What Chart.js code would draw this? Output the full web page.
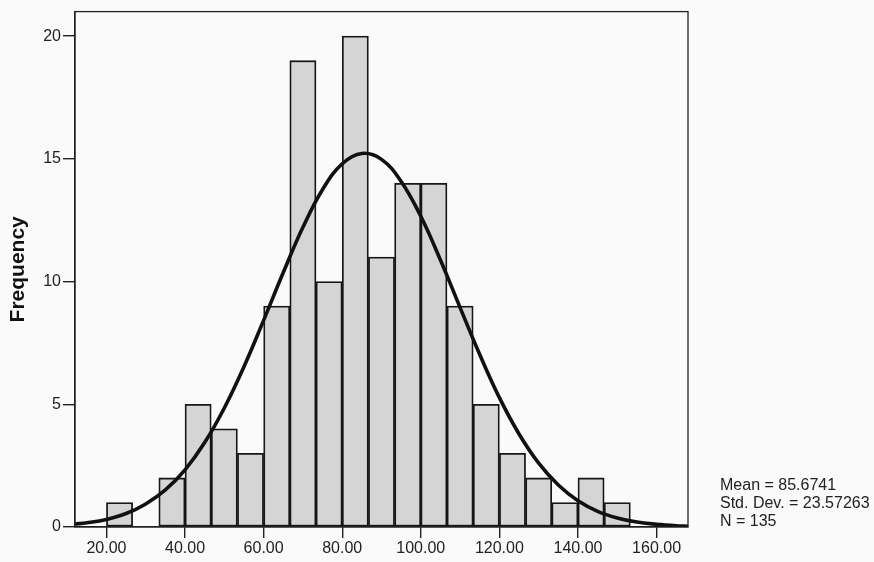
<!DOCTYPE html>
<html>
<head>
<meta charset="utf-8">
<script src="https://cdn.jsdelivr.net/npm/chart.js@4/dist/chart.umd.min.js"></script>
<style>
  html, body { margin: 0; padding: 0; background: #fafafa; }
  #wrap { position: relative; width: 874px; height: 562px; }
  #stats {
    position: absolute; left: 720px; top: 476px;
    font-family: "Liberation Sans", Arial, sans-serif; font-size: 16px;
    line-height: 18px; color: #222;
  }
</style>
</head>
<body>
<div id="wrap">
  <canvas id="hist" width="874" height="562"></canvas>
  <div id="stats">Mean = 85.6741<br>Std. Dev. = 23.57263<br>N = 135</div>
</div>
<script>
// histogram bins (lower edges, width 20/3) and counts
const binEdges = [20, 26.667, 33.333, 40, 46.667, 53.333, 60, 66.667, 73.333, 80,
                  86.667, 93.333, 100, 106.667, 113.333, 120, 126.667, 133.333, 140, 146.667, 153.333];
const counts = [1, 0, 2, 5, 4, 3, 9, 19, 10, 20, 11, 14, 14, 9, 5, 3, 2, 1, 2, 1];

// fitted normal curve
const curveX = [12, 15, 20, 25, 30, 35, 40, 45, 50, 55, 60, 65, 70, 75, 80, 85, 90,
                95, 100, 105, 110, 115, 120, 125, 130, 135, 140, 145, 150, 155, 160, 165, 168];
const curveY = [0.12, 0.17, 0.31, 0.55, 0.94, 1.51, 2.33, 3.44, 4.85, 6.53, 8.42, 10.37, 12.21, 13.75, 14.80, 15.22, 14.98,
                14.08, 12.66, 10.88, 8.94, 7.03, 5.27, 3.79, 2.60, 1.71, 1.07, 0.64, 0.37, 0.20, 0.11, 0.05, 0.03];

const xTicks = [20, 40, 60, 80, 100, 120, 140, 160];
const yTicks = [0, 5, 10, 15, 20];

const barData = counts.map((c, i) => ({ x: (binEdges[i] + binEdges[i + 1]) / 2, y: c }));
const lineData = curveX.map((x, i) => ({ x: x, y: curveY[i] }));

// box round the plot area
const frame = {
  id: 'frame',
  afterDraw(chart) {
    const a = chart.chartArea, ctx = chart.ctx;
    ctx.save();
    ctx.strokeStyle = '#222';
    ctx.lineWidth = 1.3;
    ctx.strokeRect(a.left, a.top, a.right - a.left, a.bottom - a.top);
    ctx.restore();
  }
};

const tickFont = { family: '"Liberation Sans", Arial, sans-serif', size: 16 };

new Chart(document.getElementById('hist'), {
  data: {
    datasets: [
      {
        type: 'line',
        data: lineData,
        borderColor: '#111',
        borderWidth: 3.6,
        pointRadius: 0,
        tension: 0.4,
        fill: false,
        order: 0
      },
      {
        type: 'bar',
        data: barData,
        backgroundColor: '#d5d5d5',
        borderColor: '#161616',
        borderWidth: 1.8,
        borderSkipped: false,
        barPercentage: 1,
        categoryPercentage: 1,
        order: 1
      }
    ]
  },
  options: {
    responsive: false,
    animation: false,
    layout: { padding: { top: 11, right: 186, left: 0, bottom: 0 } },
    plugins: { legend: { display: false }, tooltip: { enabled: false } },
    scales: {
      x: {
        type: 'linear',
        min: 12,
        max: 168,
        offset: false,
        afterBuildTicks: s => { s.ticks = xTicks.map(v => ({ value: v })); },
        afterFit: s => { s.height = 35; },
        grid: { drawOnChartArea: false, drawTicks: true, tickLength: 11, color: '#222', lineWidth: 1.4, offset: false },
        border: { display: true, color: '#222', width: 1.3 },
        ticks: { color: '#222', font: tickFont, padding: 1, maxRotation: 0,
                 callback: v => v.toFixed(2) }
      },
      y: {
        min: 0,
        max: 21,
        afterBuildTicks: s => { s.ticks = yTicks.map(v => ({ value: v })); },
        afterFit: s => { s.width = 75; },
        grid: { drawOnChartArea: false, drawTicks: true, tickLength: 12, color: '#222', lineWidth: 1.4 },
        border: { display: true, color: '#222', width: 1.3 },
        ticks: { color: '#222', font: tickFont, padding: 2 },
        title: {
          display: true,
          text: 'Frequency',
          color: '#111',
          font: { family: '"Liberation Sans", Arial, sans-serif', size: 21, weight: 'bold' },
          padding: { top: 6, bottom: 0 }
        }
      }
    }
  },
  plugins: [frame]
});
</script>
</body>
</html>
